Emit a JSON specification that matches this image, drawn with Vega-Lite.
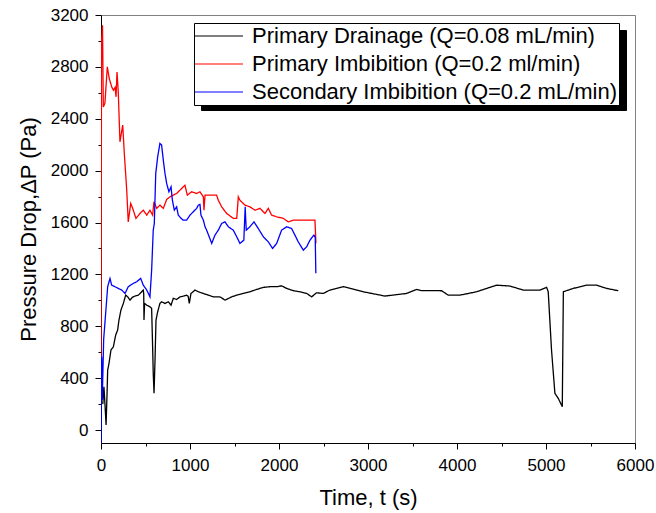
{
  "$schema": "https://vega.github.io/schema/vega-lite/v6.json",
  "width": 534,
  "height": 428,
  "autosize": {"type": "none"},
  "padding": {"left": 101, "top": 15, "right": 21, "bottom": 70},
  "background": "white",
  "config": {
    "view": {"stroke": "#808080", "strokeWidth": 1},
    "font": "Liberation Sans"
  },
  "datasets": {
    "all": [
      {"s": "D", "t": 20, "p": 200}, {"s": "D", "t": 33, "p": 334}, {"s": "D", "t": 45, "p": 193}, {"s": "D", "t": 57, "p": 39}, {"s": "D", "t": 68, "p": 283}, {"s": "D", "t": 75, "p": 462}, {"s": "D", "t": 90, "p": 514}, {"s": "D", "t": 112, "p": 617}, {"s": "D", "t": 139, "p": 642}, {"s": "D", "t": 165, "p": 732}, {"s": "D", "t": 187, "p": 771}, {"s": "D", "t": 202, "p": 848}, {"s": "D", "t": 224, "p": 925}, {"s": "D", "t": 251, "p": 976}, {"s": "D", "t": 277, "p": 1040}, {"s": "D", "t": 300, "p": 1027}, {"s": "D", "t": 326, "p": 1002}, {"s": "D", "t": 352, "p": 1023}, {"s": "D", "t": 382, "p": 1033}, {"s": "D", "t": 420, "p": 1040}, {"s": "D", "t": 457, "p": 1066}, {"s": "D", "t": 475, "p": 1079}, {"s": "D", "t": 480, "p": 1050}, {"s": "D", "t": 483, "p": 848}, {"s": "D", "t": 490, "p": 976}, {"s": "D", "t": 514, "p": 963}, {"s": "D", "t": 550, "p": 950}, {"s": "D", "t": 569, "p": 938}, {"s": "D", "t": 580, "p": 642}, {"s": "D", "t": 587, "p": 437}, {"s": "D", "t": 596, "p": 283}, {"s": "D", "t": 607, "p": 540}, {"s": "D", "t": 618, "p": 848}, {"s": "D", "t": 637, "p": 912}, {"s": "D", "t": 662, "p": 976}, {"s": "D", "t": 681, "p": 989}, {"s": "D", "t": 719, "p": 976}, {"s": "D", "t": 756, "p": 989}, {"s": "D", "t": 787, "p": 963}, {"s": "D", "t": 812, "p": 1015}, {"s": "D", "t": 850, "p": 1007}, {"s": "D", "t": 888, "p": 1027}, {"s": "D", "t": 924, "p": 1033}, {"s": "D", "t": 962, "p": 1040}, {"s": "D", "t": 980, "p": 1030}, {"s": "D", "t": 992, "p": 976}, {"s": "D", "t": 1011, "p": 1053}, {"s": "D", "t": 1056, "p": 1079}, {"s": "D", "t": 1093, "p": 1066}, {"s": "D", "t": 1150, "p": 1053}, {"s": "D", "t": 1206, "p": 1040}, {"s": "D", "t": 1262, "p": 1027}, {"s": "D", "t": 1336, "p": 1027}, {"s": "D", "t": 1393, "p": 1002}, {"s": "D", "t": 1405, "p": 1005}, {"s": "D", "t": 1468, "p": 1027}, {"s": "D", "t": 1525, "p": 1040}, {"s": "D", "t": 1598, "p": 1053}, {"s": "D", "t": 1673, "p": 1066}, {"s": "D", "t": 1749, "p": 1084}, {"s": "D", "t": 1824, "p": 1100}, {"s": "D", "t": 1899, "p": 1105}, {"s": "D", "t": 1974, "p": 1105}, {"s": "D", "t": 2029, "p": 1112}, {"s": "D", "t": 2086, "p": 1092}, {"s": "D", "t": 2161, "p": 1074}, {"s": "D", "t": 2236, "p": 1066}, {"s": "D", "t": 2311, "p": 1053}, {"s": "D", "t": 2367, "p": 1027}, {"s": "D", "t": 2422, "p": 1058}, {"s": "D", "t": 2497, "p": 1053}, {"s": "D", "t": 2572, "p": 1079}, {"s": "D", "t": 2722, "p": 1105}, {"s": "D", "t": 2760, "p": 1100}, {"s": "D", "t": 2947, "p": 1066}, {"s": "D", "t": 3190, "p": 1033}, {"s": "D", "t": 3434, "p": 1053}, {"s": "D", "t": 3546, "p": 1084}, {"s": "D", "t": 3600, "p": 1075}, {"s": "D", "t": 3827, "p": 1074}, {"s": "D", "t": 3901, "p": 1040}, {"s": "D", "t": 4033, "p": 1040}, {"s": "D", "t": 4220, "p": 1066}, {"s": "D", "t": 4445, "p": 1117}, {"s": "D", "t": 4595, "p": 1110}, {"s": "D", "t": 4744, "p": 1079}, {"s": "D", "t": 4931, "p": 1079}, {"s": "D", "t": 5007, "p": 1100}, {"s": "D", "t": 5025, "p": 1066}, {"s": "D", "t": 5062, "p": 617}, {"s": "D", "t": 5100, "p": 283}, {"s": "D", "t": 5138, "p": 244}, {"s": "D", "t": 5183, "p": 180}, {"s": "D", "t": 5195, "p": 1066}, {"s": "D", "t": 5306, "p": 1092}, {"s": "D", "t": 5456, "p": 1117}, {"s": "D", "t": 5568, "p": 1117}, {"s": "D", "t": 5680, "p": 1092}, {"s": "D", "t": 5812, "p": 1074},
      {"s": "I1", "t": 0, "p": 200}, {"s": "I1", "t": 6, "p": 3000}, {"s": "I1", "t": 17, "p": 3120}, {"s": "I1", "t": 26, "p": 2490}, {"s": "I1", "t": 44, "p": 2520}, {"s": "I1", "t": 71, "p": 2800}, {"s": "I1", "t": 93, "p": 2710}, {"s": "I1", "t": 120, "p": 2646}, {"s": "I1", "t": 139, "p": 2620}, {"s": "I1", "t": 158, "p": 2641}, {"s": "I1", "t": 169, "p": 2569}, {"s": "I1", "t": 180, "p": 2761}, {"s": "I1", "t": 194, "p": 2607}, {"s": "I1", "t": 213, "p": 2222}, {"s": "I1", "t": 244, "p": 2351}, {"s": "I1", "t": 262, "p": 2132}, {"s": "I1", "t": 289, "p": 1850}, {"s": "I1", "t": 306, "p": 1605}, {"s": "I1", "t": 334, "p": 1747}, {"s": "I1", "t": 356, "p": 1709}, {"s": "I1", "t": 393, "p": 1632}, {"s": "I1", "t": 438, "p": 1670}, {"s": "I1", "t": 475, "p": 1695}, {"s": "I1", "t": 514, "p": 1657}, {"s": "I1", "t": 550, "p": 1695}, {"s": "I1", "t": 580, "p": 1657}, {"s": "I1", "t": 595, "p": 1760}, {"s": "I1", "t": 626, "p": 1709}, {"s": "I1", "t": 662, "p": 1734}, {"s": "I1", "t": 700, "p": 1709}, {"s": "I1", "t": 738, "p": 1778}, {"s": "I1", "t": 775, "p": 1798}, {"s": "I1", "t": 812, "p": 1811}, {"s": "I1", "t": 850, "p": 1824}, {"s": "I1", "t": 888, "p": 1850}, {"s": "I1", "t": 924, "p": 1875}, {"s": "I1", "t": 943, "p": 1888}, {"s": "I1", "t": 970, "p": 1811}, {"s": "I1", "t": 1019, "p": 1837}, {"s": "I1", "t": 1075, "p": 1824}, {"s": "I1", "t": 1112, "p": 1837}, {"s": "I1", "t": 1150, "p": 1798}, {"s": "I1", "t": 1157, "p": 1695}, {"s": "I1", "t": 1169, "p": 1811}, {"s": "I1", "t": 1225, "p": 1811}, {"s": "I1", "t": 1299, "p": 1811}, {"s": "I1", "t": 1318, "p": 1772}, {"s": "I1", "t": 1356, "p": 1721}, {"s": "I1", "t": 1412, "p": 1670}, {"s": "I1", "t": 1486, "p": 1632}, {"s": "I1", "t": 1525, "p": 1632}, {"s": "I1", "t": 1543, "p": 1798}, {"s": "I1", "t": 1561, "p": 1772}, {"s": "I1", "t": 1618, "p": 1734}, {"s": "I1", "t": 1673, "p": 1721}, {"s": "I1", "t": 1731, "p": 1695}, {"s": "I1", "t": 1787, "p": 1709}, {"s": "I1", "t": 1842, "p": 1670}, {"s": "I1", "t": 1880, "p": 1709}, {"s": "I1", "t": 1917, "p": 1657}, {"s": "I1", "t": 1974, "p": 1644}, {"s": "I1", "t": 2048, "p": 1632}, {"s": "I1", "t": 2104, "p": 1605}, {"s": "I1", "t": 2161, "p": 1618}, {"s": "I1", "t": 2236, "p": 1618}, {"s": "I1", "t": 2311, "p": 1618}, {"s": "I1", "t": 2404, "p": 1618}, {"s": "I1", "t": 2415, "p": 1439},
      {"s": "I2", "t": 0, "p": -100}, {"s": "I2", "t": 8, "p": 565}, {"s": "I2", "t": 14, "p": 231}, {"s": "I2", "t": 30, "p": 700}, {"s": "I2", "t": 75, "p": 1105}, {"s": "I2", "t": 101, "p": 1169}, {"s": "I2", "t": 120, "p": 1117}, {"s": "I2", "t": 158, "p": 1105}, {"s": "I2", "t": 194, "p": 1092}, {"s": "I2", "t": 233, "p": 1079}, {"s": "I2", "t": 270, "p": 1053}, {"s": "I2", "t": 306, "p": 1105}, {"s": "I2", "t": 363, "p": 1131}, {"s": "I2", "t": 400, "p": 1143}, {"s": "I2", "t": 446, "p": 1169}, {"s": "I2", "t": 475, "p": 1117}, {"s": "I2", "t": 514, "p": 1079}, {"s": "I2", "t": 550, "p": 1027}, {"s": "I2", "t": 569, "p": 1233}, {"s": "I2", "t": 587, "p": 1541}, {"s": "I2", "t": 599, "p": 1593}, {"s": "I2", "t": 615, "p": 1978}, {"s": "I2", "t": 637, "p": 2107}, {"s": "I2", "t": 662, "p": 2210}, {"s": "I2", "t": 681, "p": 2197}, {"s": "I2", "t": 700, "p": 2081}, {"s": "I2", "t": 719, "p": 1978}, {"s": "I2", "t": 738, "p": 1901}, {"s": "I2", "t": 763, "p": 1837}, {"s": "I2", "t": 787, "p": 1875}, {"s": "I2", "t": 802, "p": 1772}, {"s": "I2", "t": 824, "p": 1695}, {"s": "I2", "t": 850, "p": 1721}, {"s": "I2", "t": 868, "p": 1657}, {"s": "I2", "t": 899, "p": 1632}, {"s": "I2", "t": 924, "p": 1618}, {"s": "I2", "t": 962, "p": 1618}, {"s": "I2", "t": 1000, "p": 1657}, {"s": "I2", "t": 1037, "p": 1683}, {"s": "I2", "t": 1075, "p": 1709}, {"s": "I2", "t": 1093, "p": 1734}, {"s": "I2", "t": 1112, "p": 1740}, {"s": "I2", "t": 1123, "p": 1657}, {"s": "I2", "t": 1150, "p": 1618}, {"s": "I2", "t": 1169, "p": 1567}, {"s": "I2", "t": 1187, "p": 1541}, {"s": "I2", "t": 1244, "p": 1439}, {"s": "I2", "t": 1281, "p": 1503}, {"s": "I2", "t": 1318, "p": 1541}, {"s": "I2", "t": 1356, "p": 1593}, {"s": "I2", "t": 1393, "p": 1605}, {"s": "I2", "t": 1431, "p": 1567}, {"s": "I2", "t": 1486, "p": 1541}, {"s": "I2", "t": 1525, "p": 1490}, {"s": "I2", "t": 1561, "p": 1439}, {"s": "I2", "t": 1605, "p": 1464}, {"s": "I2", "t": 1620, "p": 1721}, {"s": "I2", "t": 1632, "p": 1541}, {"s": "I2", "t": 1673, "p": 1567}, {"s": "I2", "t": 1719, "p": 1605}, {"s": "I2", "t": 1767, "p": 1554}, {"s": "I2", "t": 1824, "p": 1490}, {"s": "I2", "t": 1880, "p": 1451}, {"s": "I2", "t": 1928, "p": 1400}, {"s": "I2", "t": 1974, "p": 1439}, {"s": "I2", "t": 2029, "p": 1541}, {"s": "I2", "t": 2086, "p": 1567}, {"s": "I2", "t": 2141, "p": 1554}, {"s": "I2", "t": 2179, "p": 1503}, {"s": "I2", "t": 2216, "p": 1451}, {"s": "I2", "t": 2273, "p": 1387}, {"s": "I2", "t": 2311, "p": 1413}, {"s": "I2", "t": 2348, "p": 1464}, {"s": "I2", "t": 2392, "p": 1503}, {"s": "I2", "t": 2407, "p": 1485}, {"s": "I2", "t": 2414, "p": 1208}
    ]
  },
  "data": {"name": "all"},
  "mark": {"type": "line", "strokeWidth": 1.3, "clip": true},
  "encoding": {
    "x": {
      "field": "t",
      "type": "quantitative",
      "scale": {"domain": [0, 6000], "nice": false, "zero": false},
      "axis": {
        "values": [0, 500, 1000, 1500, 2000, 2500, 3000, 3500, 4000, 4500, 5000, 5500, 6000],
        "labelExpr": "datum.value % 1000 === 0 ? datum.label : ''",
        "format": "d",
        "tickSize": {"condition": {"test": "datum.value % 1000 === 0", "value": 6}, "value": 3},
        "grid": false,
        "domainColor": "black",
        "tickColor": "black",
        "labelColor": "black",
        "labelFontSize": 17,
        "labelPadding": 8,
        "labelFlush": false,
        "labelOverlap": false,
        "title": "Time, t (s)",
        "titleFontSize": 22,
        "titleFontWeight": "normal",
        "titleColor": "black",
        "titlePadding": 14
      }
    },
    "y": {
      "field": "p",
      "type": "quantitative",
      "scale": {"domain": [-100, 3200], "nice": false, "zero": false},
      "axis": {
        "values": [0, 200, 400, 600, 800, 1000, 1200, 1400, 1600, 1800, 2000, 2200, 2400, 2600, 2800, 3000, 3200],
        "labelExpr": "datum.value % 400 === 0 ? datum.label : ''",
        "format": "d",
        "tickSize": {"condition": {"test": "datum.value % 400 === 0", "value": 6}, "value": 3},
        "grid": false,
        "domainColor": "black",
        "tickColor": "black",
        "labelColor": "black",
        "labelFontSize": 17,
        "labelPadding": 7,
        "labelFlush": false,
        "labelOverlap": false,
        "title": "Pressure Drop,\u0394P (Pa)",
        "titleFontSize": 22,
        "titleFontWeight": "normal",
        "titleColor": "black",
        "titlePadding": 10
      }
    },
    "color": {
      "field": "s",
      "type": "nominal",
      "scale": {"domain": ["D", "I1", "I2"], "range": ["#000000", "#ff0000", "#0000ff"]},
      "legend": {
        "orient": "none",
        "legendX": 93,
        "legendY": 8,
        "zindex": 2,
        "title": null,
        "symbolType": "M-4,0H12",
        "symbolSize": 36,
        "symbolStrokeWidth": 1.2,
        "labelExpr": "datum.value === 'D' ? 'Primary Drainage (Q=0.08 mL/min)' : datum.value === 'I1' ? 'Primary Imbibition (Q=0.2 ml/min)' : 'Secondary Imbibition (Q=0.2 mL/min)'",
        "labelFontSize": 22,
        "labelColor": "black",
        "labelLimit": 1000,
        "labelOffset": 34,
        "rowPadding": 6,
        "padding": 2,
        "strokeColor": "black",
        "fillColor": "white"
      }
    },
    "strokeDash": {
      "field": "s",
      "type": "nominal",
      "scale": {"range": [[1, 0], [1, 0], [1, 0]]},
      "legend": {
        "orient": "none",
        "legendX": 100,
        "legendY": 15,
        "zindex": 1,
        "title": null,
        "symbolType": "M-4,0H12",
        "symbolSize": 36,
        "symbolStrokeWidth": 1.2,
        "symbolStrokeColor": "black",
        "labelExpr": "''",
        "labelFontSize": 22,
        "labelLimit": 1000,
        "labelOffset": 399,
        "rowPadding": 5,
        "padding": 2,
        "strokeColor": "black",
        "fillColor": "black"
      }
    }
  }
}
